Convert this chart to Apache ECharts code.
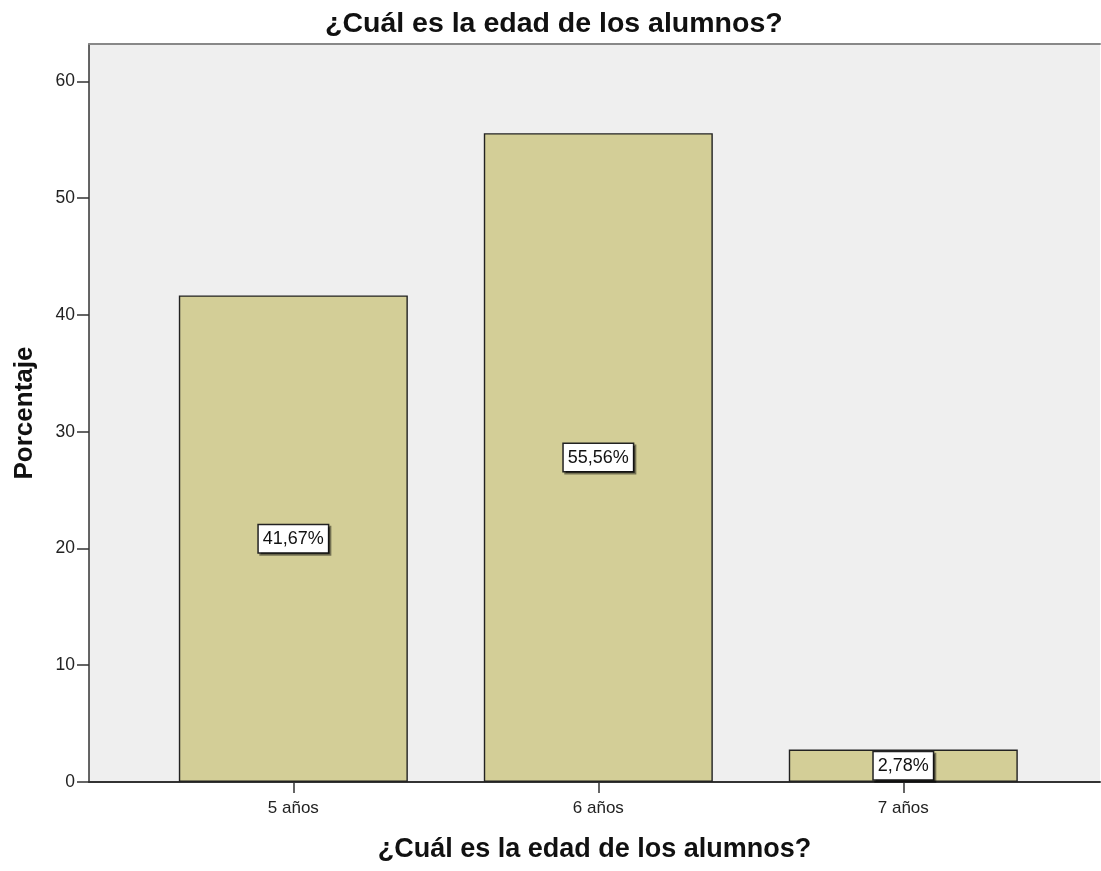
<!DOCTYPE html>
<html>
<head>
<meta charset="utf-8">
<script src="https://cdn.jsdelivr.net/npm/echarts@6/dist/echarts.min.js"></script>
<style>html,body{margin:0;padding:0;background:#fff;}#c{width:1101px;height:871px;}</style>
</head>
<body>
<div id="c"></div>
<script>
const titleText = '¿Cuál es la edad de los alumnos?';
const xAxisName = '¿Cuál es la edad de los alumnos?';
const yAxisName = 'Porcentaje';
const categories = ['5 años', '6 años', '7 años'];
const positions = [1, 2, 3];
const values = [41.67, 55.56, 2.78];
const yTicks = [0, 10, 20, 30, 40, 50, 60];

const chart = echarts.init(document.getElementById('c'), null, {renderer: 'canvas'});
const fontFamily = 'Liberation Sans, Arial, sans-serif';
const option = {
  backgroundColor: '#ffffff',
  animation: false,
  title: {
    text: titleText,
    left: 320, top: 5,
    textStyle: {fontFamily, fontSize: 28.5, fontWeight: 'bold', color: '#111'}
  },
  grid: {left: 89, right: 1, top: 44, bottom: 89, show: true, backgroundColor: '#efefef', borderWidth: 0},
  xAxis: [{
    type: 'value', min: 0.33, max: 3.645,
    name: xAxisName, nameLocation: 'middle', nameGap: 54,
    nameTextStyle: {fontFamily, fontSize: 27, fontWeight: 'bold', color: '#111'},
    splitLine: {show: false},
    axisLine: {show: true, lineStyle: {color: '#333', width: 2}},
    axisTick: {show: true, inside: false, length: 11, customValues: positions, lineStyle: {color: '#333', width: 1.5}},
    axisLabel: {customValues: positions, margin: 18, fontFamily, fontSize: 17, color: '#222',
      formatter: v => categories[positions.indexOf(Math.round(v))] || ''}
  }, {
    type: 'value', min: 0.33, max: 3.645, position: 'top',
    splitLine: {show: false},
    axisLine: {show: true, lineStyle: {color: '#888', width: 2}},
    axisTick: {show: false}, axisLabel: {show: false}
  }],
  yAxis: {
    type: 'value', min: 0, max: 63.2, interval: 10,
    name: yAxisName, nameLocation: 'middle', nameGap: 51,
    nameTextStyle: {fontFamily, fontSize: 26, fontWeight: 'bold', color: '#111'},
    splitLine: {show: false},
    axisLine: {show: true, lineStyle: {color: '#333', width: 1.5}},
    axisTick: {show: true, inside: false, length: 12, customValues: yTicks, lineStyle: {color: '#333', width: 1.5}},
    axisLabel: {customValues: yTicks, margin: 14, fontFamily, fontSize: 17.5, color: '#222'}
  },
  series: [{
    type: 'bar',
    xAxisIndex: 0,
    barWidth: 229,
    data: positions.map((p, i) => [p, values[i]]),
    itemStyle: {color: '#d3ce97', borderColor: '#222', borderWidth: 1.4},
    label: {
      show: true, position: 'inside',
      formatter: p => p.value[1].toFixed(2).replace('.', ',') + '%',
      fontFamily, fontSize: 18, color: '#111',
      backgroundColor: '#ffffff', borderColor: '#222', borderWidth: 1.5,
      padding: [5, 4, 4, 4],
      shadowColor: 'rgba(0,0,0,0.45)', shadowOffsetX: 2, shadowOffsetY: 2, shadowBlur: 0
    }
  }]
};
chart.setOption(option);
</script>
</body>
</html>
